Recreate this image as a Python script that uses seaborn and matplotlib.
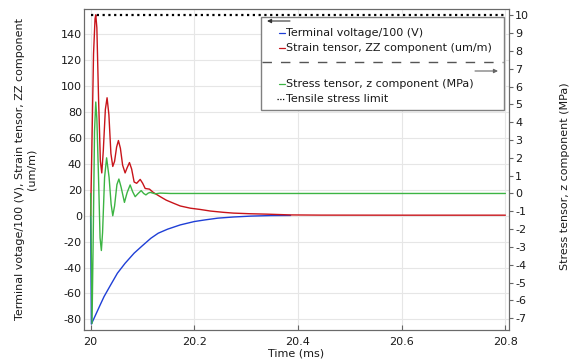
import matplotlib
matplotlib.use("Agg")
import matplotlib.pyplot as plt
import seaborn as sns
from matplotlib.lines import Line2D
from matplotlib.patches import Rectangle, FancyArrowPatch

# ---------------- data ----------------
voltage_time = [20.0000, 20.0014, 20.0085, 20.0182, 20.0259, 20.0375, 20.0516, 20.0665,
                20.0839, 20.0994, 20.1162, 20.1304, 20.1484, 20.1729, 20.2000, 20.2213,
                20.2451, 20.2754, 20.3097, 20.3470, 20.3857]
voltage_values = [0.0, -83.6, -77.5, -69.0, -62.4, -54.2, -44.4, -36.7,
                  -28.9, -23.3, -17.4, -13.5, -10.4, -7.1, -4.5, -3.2,
                  -1.9, -1.0, -0.3, 0.1, 0.2]

strain_time = [20.0000, 20.0027, 20.0056, 20.0085, 20.0099, 20.0120, 20.0153, 20.0188,
               20.0215, 20.0244, 20.0284, 20.0317, 20.0352, 20.0391, 20.0427, 20.0462,
               20.0501, 20.0536, 20.0574, 20.0617, 20.0665, 20.0704, 20.0749, 20.0791,
               20.0839, 20.0888, 20.0956, 20.1004, 20.1052, 20.1135, 20.1207, 20.1342,
               20.1458, 20.1600, 20.1729, 20.1923, 20.2116, 20.2309, 20.2561, 20.2754,
               20.3083, 20.3393, 20.3857, 20.4437, 20.5985, 20.8000]
strain_values = [0.0, 60.0, 125.0, 152.0, 155.0, 145.0, 90.0, 42.0,
                 33.0, 50.0, 82.0, 91.0, 78.0, 48.0, 38.0, 42.0,
                 53.0, 58.0, 52.0, 39.0, 33.0, 37.0, 41.0, 36.0,
                 26.0, 25.0, 28.0, 25.0, 21.0, 20.5, 18.0, 14.7,
                 12.0, 9.6, 7.5, 5.8, 4.8, 3.6, 2.6, 2.0,
                 1.5, 1.2, 0.6, 0.45, 0.4, 0.4]

stress_time = [20.0000, 20.0014, 20.0027, 20.0052, 20.0075, 20.0099, 20.0120, 20.0153,
               20.0182, 20.0207, 20.0230, 20.0269, 20.0308, 20.0356, 20.0395, 20.0427,
               20.0462, 20.0507, 20.0545, 20.0588, 20.0652, 20.0704, 20.0762, 20.0810,
               20.0859, 20.0917, 20.0975, 20.1023, 20.1066, 20.1110, 20.1149, 20.1246,
               20.1342, 20.1536, 20.8000]
stress_values = [0.0, -3.5, -7.3, -2.0, 3.5, 5.13, 4.2, 0.8,
                 -2.5, -3.2, -2.2, 0.9, 2.0, 0.9, -0.6, -1.25,
                 -0.7, 0.5, 0.81, 0.35, -0.5, 0.05, 0.48, 0.1,
                 -0.18, 0.0, 0.16, 0.0, -0.08, 0.02, 0.06, -0.02,
                 0.02, 0.0, 0.0]

limit_time = [20.0, 20.8]
limit_values = [10.0, 10.0]

x_ticks = [20.0, 20.2, 20.4, 20.6, 20.8]
x_tick_labels = ["20", "20.2", "20.4", "20.6", "20.8"]
left_ticks = [-80, -60, -40, -20, 0, 20, 40, 60, 80, 100, 120, 140]
right_ticks = [-7, -6, -5, -4, -3, -2, -1, 0, 1, 2, 3, 4, 5, 6, 7, 8, 9, 10]

legend_labels = ["Terminal voltage/100 (V)", "Strain tensor, ZZ component (um/m)",
                 "Stress tensor, z component (MPa)", "Tensile stress limit"]

BLUE = "#1f3fd6"
RED = "#c8141a"
GREEN = "#3cb443"

# ---------------- style ----------------
sns.set_theme(style="white")
plt.rcParams["font.family"] = ["DejaVu Sans"]
plt.rcParams["axes.unicode_minus"] = False

W, H = 571, 363
fig = plt.figure(figsize=(W / 100, H / 100), dpi=100)
L, R, T, B = 84, 509, 9, 330
ax = fig.add_axes([L / W, 1 - B / H, (R - L) / W, (B - T) / H])
ax2 = ax.twinx()

sns.lineplot(x=voltage_time, y=voltage_values, ax=ax, color=BLUE, linewidth=1.0,
             estimator=None, sort=False)
sns.lineplot(x=strain_time, y=strain_values, ax=ax, color=RED, linewidth=1.0,
             estimator=None, sort=False)
sns.lineplot(x=stress_time, y=stress_values, ax=ax2, color=GREEN, linewidth=1.0,
             estimator=None, sort=False)
sns.lineplot(x=limit_time, y=limit_values, ax=ax2, color="black", linewidth=1.6,
             linestyle=(0, (1, 1.6)), estimator=None, sort=False)

ax.set_xlim(19.9872, 20.807)
ax.set_ylim(-88.2, 159.5)
ax2.set_ylim(-7.66, 10.35)

ax.set_xticks(x_ticks, labels=x_tick_labels)
ax.set_yticks(left_ticks)
ax2.set_yticks(right_ticks)

ax.grid(True, color="#e6e6e6", linewidth=0.8)
ax.set_axisbelow(True)
ax2.grid(False)

ax.tick_params(axis="x", bottom=True, direction="in", length=3.5, width=0.8,
               color="#666666", pad=5, labelsize=8, labelcolor="#1a1a1a")
ax.tick_params(axis="y", left=True, direction="in", length=0, pad=1.5,
               labelsize=8, labelcolor="#1a1a1a")
ax2.tick_params(axis="y", right=True, direction="out", length=3, width=0.8,
                color="#666666", pad=1.5, labelsize=8, labelcolor="#1a1a1a")

for a in (ax, ax2):
    for s in a.spines.values():
        s.set_color("#6a6a6a")
        s.set_linewidth(0.8)

ax.set_xlabel("Time (ms)", fontsize=8, labelpad=1, color="#1a1a1a")
ax.set_ylabel("Terminal votage/100 (V), Strain tensor, ZZ component\n(um/m)",
              fontsize=8, color="#1a1a1a")
ax.yaxis.set_label_coords((36.5 - L) / (R - L), 0.5)
ax2.set_ylabel("Stress tensor, z component (MPa)", fontsize=8, color="#1a1a1a")
ax2.yaxis.set_label_coords((560 - L) / (R - L), 0.48)


# ---------------- COMSOL-style legend ----------------
def fx(px):
    return px / W


def fy(py):
    return 1 - py / H


fig.add_artist(Rectangle((fx(261), fy(110)), fx(504) - fx(261), fy(17) - fy(110),
                         transform=fig.transFigure, facecolor="white",
                         edgecolor="#808080", linewidth=1.0, zorder=5))

rows = [(33.3, BLUE, "-", legend_labels[0]),
        (47.7, RED, "-", legend_labels[1]),
        (84.3, GREEN, "-", legend_labels[2]),
        (99.0, "black", (0, (1, 1.2)), legend_labels[3])]
for y, c, ls, lab in rows:
    x0 = 277 if ls != "-" else 279
    fig.add_artist(Line2D([fx(x0), fx(284.5)], [fy(y), fy(y)], transform=fig.transFigure,
                          color=c, linestyle=ls, linewidth=0.9, zorder=6))
    fig.text(fx(286), fy(y), lab, fontsize=8, ha="left", va="center",
             color="#1a1a1a", zorder=6)

fig.add_artist(Line2D([fx(262), fx(503)], [fy(61.7), fy(61.7)], transform=fig.transFigure,
                      color="#555555", linestyle=(0, (6.8, 6.5)), linewidth=1.0, zorder=6))
fig.add_artist(FancyArrowPatch((fx(290), fy(21)), (fx(267), fy(21)), transform=fig.transFigure,
                               arrowstyle="-|>", mutation_scale=6, color="#333333",
                               linewidth=0.8, shrinkA=0, shrinkB=0, zorder=6))
fig.add_artist(FancyArrowPatch((fx(475), fy(71)), (fx(498), fy(71)), transform=fig.transFigure,
                               arrowstyle="-|>", mutation_scale=6, color="#666666",
                               linewidth=0.8, shrinkA=0, shrinkB=0, zorder=6))

fig.savefig("out.png", dpi=100)
